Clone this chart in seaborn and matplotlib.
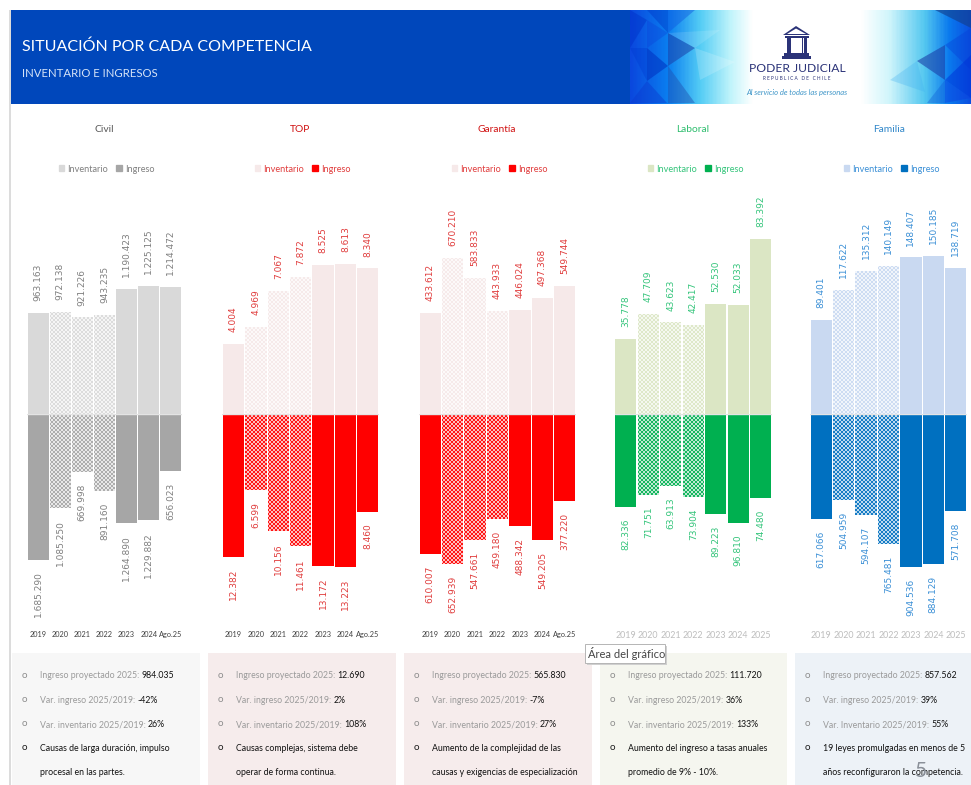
import numpy as np
import matplotlib
matplotlib.use("Agg")
import matplotlib.pyplot as plt
from matplotlib.colors import LinearSegmentedColormap
from matplotlib.patches import Rectangle, Polygon
import seaborn as sns

sns.set_theme(style="white")
plt.rcParams["font.family"] = ["Lato", "DejaVu Sans"]

W, H = 971, 785
DPI = 96  # a whole-pixel hatch period at this resolution


def pts(x):
    return x * 100 / DPI


plt.rcParams["hatch.linewidth"] = pts(0.42)

YEARS_A = ["2019", "2020", "2021", "2022", "2023", "2024", "Ago.25"]
YEARS_B = ["2019", "2020", "2021", "2022", "2023", "2024", "2025"]

civil_inv = [963163, 972138, 921226, 943235, 1190423, 1225125, 1214472]
civil_ing = [1685290, 1085250, 669998, 891160, 1264890, 1229882, 656023]
top_inv = [4004, 4969, 7067, 7872, 8525, 8613, 8340]
top_ing = [12382, 6599, 10156, 11461, 13172, 13223, 8460]
gar_inv = [433612, 670210, 583833, 443933, 446024, 497368, 549744]
gar_ing = [610007, 652939, 547661, 459180, 488342, 549205, 377220]
lab_inv = [35778, 47709, 43623, 42417, 52530, 52033, 83392]
lab_ing = [82336, 71751, 63913, 73904, 89223, 96810, 74480]
fam_inv = [89401, 117622, 135312, 140149, 148407, 150185, 138719]
fam_ing = [617066, 504959, 594107, 765481, 904536, 884129, 571708]

titles = ["Civil", "TOP", "Garantía", "Laboral", "Familia"]
notes = [
    ["984.035", "-42%", "26%", "Causas de larga duración, impulso", "procesal en las partes."],
    ["12.690", "2%", "108%", "Causas complejas, sistema debe", "operar de forma continua."],
    ["565.830", "-7%", "27%", "Aumento de la complejidad de las", "causas y exigencias de especialización"],
    ["111.720", "36%", "133%", "Aumento del ingreso a tasas anuales", "promedio de 9% - 10%."],
    ["857.562", "39%", "55%", "19 leyes promulgadas en menos de 5", "años reconfiguraron la competencia."],
]
note_heads = ["Ingreso proyectado 2025:", "Var. ingreso 2025/2019:", "Var. inventario 2025/2019:"]

panels = [
    dict(inv=civil_inv, ing=civil_ing, x0=27, x1=182, k_inv=9536, k_ing=11560, ci="#d9d9d9", cg="#a6a6a6",
         txt="#7f7f7f", title="#595959", years=YEARS_A, cx=104, box=(12, 200), fill="#f7f7f7"),
    dict(inv=top_inv, ing=top_ing, x0=222.3, x1=379, k_inv=57.3, k_ing=86.6, ci="#f6e9e9", cg="#ff0000",
         txt="#e03c3c", title="#d01010", years=YEARS_A, cx=300, box=(208, 396), fill="#f6ecec"),
    dict(inv=gar_inv, ing=gar_ing, x0=419, x1=576, k_inv=4295, k_ing=4355, ci="#f6e9e9", cg="#ff0000",
         txt="#e03c3c", title="#d01010", years=YEARS_A, cx=497, box=(404, 592), fill="#f6ecec"),
    dict(inv=lab_inv, ing=lab_ing, x0=614.5, x1=772, k_inv=476, k_ing=890, ci="#dbe6c4", cg="#00b050",
         txt="#33c47a", title="#2ebd6e", years=YEARS_B, cx=693, box=(600, 787), fill="#f5f6ef"),
    dict(inv=fam_inv, ing=fam_ing, x0=810, x1=967, k_inv=948, k_ing=5900, ci="#c9d9f1", cg="#0070c0",
         txt="#3a8fd6", title="#2f86c9", years=YEARS_B, cx=889, box=(795, 971), fill="#edf2f7"),
]

BASE = 414
UP, DOWN = 214, 216

fig = plt.figure(figsize=(W / DPI, H / DPI), dpi=DPI, facecolor="white")


def pix_axes(x0, x1, ytop, ybot, **kw):
    return fig.add_axes([x0 / W, 1 - ybot / H, (x1 - x0) / W, (ybot - ytop) / H], **kw)


bg = fig.add_axes([0, 0, 1, 1], zorder=0)
bg.set_xlim(0, W)
bg.set_ylim(H, 0)
bg.axis("off")

# frame and header
bg.add_patch(Rectangle((8.5, 10), 2.5, H - 10, color="#dcdcdc", lw=0))
bg.add_patch(Rectangle((11, 10), 620, 94, color="#0047bb", lw=0))
bg.text(22, 46.5, "SITUACIÓN POR CADA COMPETENCIA", color="white", fontsize=pts(11.5), va="center")
bg.text(22, 73.5, "INVENTARIO E INGRESOS", color="#d5e3f7", fontsize=pts(8.2), va="center")

# banner
bn = pix_axes(630, W, 10, 104, zorder=0.5)
stops = [(630, "#0a48de"), (668, "#0a7ff0"), (700, "#55cdf5"), (730, "#c0f4fb"), (752, "#ffffff"),
         (862, "#ffffff"), (890, "#d0f5fb"), (925, "#55c8f0"), (950, "#0a7aee"), (971, "#0a4fe0")]
cmap = LinearSegmentedColormap.from_list("banner", [((x - 630) / (W - 630), c) for x, c in stops])
bn.imshow(np.linspace(0, 1, 342)[None, :], extent=(630, W, 104, 10), aspect="auto", cmap=cmap, zorder=1)
bn.set_xlim(630, W)
bn.set_ylim(104, 10)
bn.axis("off")
tris = [
    ([(630, 10), (647, 20), (630, 48)], "#0030c8", 0.45),
    ([(647, 20), (668, 33), (647, 48)], "#0a40d8", 0.35),
    ([(647, 10), (668, 10), (668, 33)], "#0038c8", 0.45),
    ([(668, 10), (668, 33), (695, 10)], "#1058e0", 0.45),
    ([(668, 33), (695, 48), (668, 66)], "#1a3fa8", 0.55),
    ([(695, 48), (668, 33), (720, 30)], "#ffffff", 0.12),
    ([(630, 48), (647, 48), (647, 81)], "#0038d0", 0.35),
    ([(647, 48), (668, 66), (647, 81)], "#0030c0", 0.55),
    ([(668, 66), (695, 103), (668, 103)], "#2050b0", 0.45),
    ([(647, 81), (667, 103), (630, 103)], "#0a3ad0", 0.45),
    ([(695, 48), (735, 62), (700, 80)], "#ffffff", 0.18),
    ([(935, 10), (971, 10), (971, 28)], "#12408f", 0.65),
    ([(945, 45), (971, 28), (971, 70)], "#0640d8", 0.4),
    ([(917, 61), (945, 45), (945, 80)], "#1a3fa8", 0.6),
    ([(945, 80), (971, 98), (971, 55)], "#0030d8", 0.5),
    ([(945, 80), (971, 98), (945, 103)], "#0a40e0", 0.5),
    ([(917, 61), (890, 80), (925, 92)], "#40b0f0", 0.3),
    ([(927, 103), (945, 80), (945, 103)], "#1060d8", 0.4),
]
for tri, c, a in tris:
    bn.add_patch(Polygon(tri, closed=True, color=c, alpha=a, lw=0, zorder=2))
navy = "#2b3378"
bn.add_patch(Polygon([(783, 35), (796, 26), (810, 35)], closed=True, color=navy, lw=0, zorder=4))
bn.add_patch(Polygon([(787, 34), (796, 28.5), (806, 34)], closed=True, color="white", lw=0, zorder=4))
for xb, wb in [(786.5, 3), (790, 1.2), (801.5, 1.2), (803.5, 3)]:
    bn.add_patch(Rectangle((xb, 36), wb, 17, color=navy, lw=0, zorder=4))
bn.add_patch(Rectangle((785, 36), 24, 1.8, color=navy, lw=0, zorder=4))
bn.add_patch(Rectangle((784, 53), 25, 2.5, color=navy, lw=0, zorder=4))
bn.add_patch(Rectangle((782, 56), 29, 3, color=navy, lw=0, zorder=4))
bn.text(797, 69, "PODER JUDICIAL", color=navy, fontsize=pts(8.7), ha="center", va="center", zorder=5)
bn.text(797, 79, "R E P U B L I C A   D E   C H I L E", color=navy, fontsize=pts(3.4), ha="center",
        va="center", zorder=5)
bn.text(797, 92, "Al servicio de todas las personas", color="#3f96c8", fontsize=pts(5.5), ha="center",
        va="center", zorder=5, style="italic")


def draw_side(ax, values, color, txt, k, span, down):
    sns.barplot(x=list(range(7)), y=values, ax=ax, color=color, width=0.95, saturation=1, legend=False)
    ax.set_xlim(-0.5, 6.5)
    ax.set_ylim(span * k, 0) if down else ax.set_ylim(0, span * k)
    for i, b in enumerate(ax.patches):
        b.set_linewidth(0)
        if i in (1, 2, 3):
            b.set_hatch("xxxxxxxx")
            b.set_edgecolor("white")
    ax.bar_label(ax.containers[0], labels=[f"{v:,}".replace(",", ".") for v in values], rotation=90,
                 padding=pts(8.5), color=txt, fontsize=pts(6.5), family="DejaVu Sans")
    ax.set_yticks([])
    ax.set_xlabel("")
    ax.set_ylabel("")
    sns.despine(ax=ax, left=True, bottom=True, top=True, right=True)
    ax.patch.set_alpha(0)


fig.canvas.draw()
rend = fig.canvas.get_renderer()
for idx, (p, note) in enumerate(zip(panels, notes)):
    top = pix_axes(p["x0"], p["x1"], BASE - UP, BASE, zorder=1)
    low = pix_axes(p["x0"], p["x1"], BASE, BASE + DOWN, zorder=1)
    draw_side(top, p["inv"], p["ci"], p["txt"], p["k_inv"], UP, False)
    top.set_xticks([])
    draw_side(low, p["ing"], p["cg"], p["txt"], p["k_ing"], DOWN, True)
    low.axhline(0, color="#e4e4e4", lw=pts(1))
    low.set_xticks(range(7))
    if p["years"] is YEARS_A:
        low.set_xticklabels(p["years"], fontsize=pts(5.3), color="#404040")
    else:
        low.set_xticklabels(p["years"], fontsize=pts(6.4), color="#bdbdbd")
    low.xaxis.set_ticks_position("bottom")
    low.tick_params(axis="x", length=0, pad=pts(1))

    bg.text(p["cx"], 130, titles[idx], color=p["title"], fontsize=pts(7.4), ha="center", va="center")
    handles = [Rectangle((0, 0), 1, 1, color=p["ci"]), Rectangle((0, 0), 1, 1, color=p["cg"])]
    top.legend(handles, ["Inventario", "Ingreso"], ncol=2, loc="center", frameon=False, fontsize=pts(6.6),
               labelcolor=p["txt"], handlelength=0.6, handleheight=0.6, handletextpad=0.35, columnspacing=0.9,
               bbox_to_anchor=((p["cx"] + 2.5) / W, 1 - 169 / H), bbox_transform=fig.transFigure)

    bx0, bx1 = p["box"]
    bg.add_patch(Rectangle((bx0, 653), bx1 - bx0, H - 653, color=p["fill"], lw=0))
    bullet_x, text_x = bx0 + 12.5, bx0 + 28
    rows = [675, 700, 724, 748, 772]
    for j, y in enumerate(rows):
        if j < 4:
            bg.text(bullet_x, y, "o", color="#8c8c8c" if j < 3 else "#1a1a1a", fontsize=pts(7), ha="center",
                    va="center")
        if j < 3:
            head = note_heads[j]
            if idx == 4 and j == 2:
                head = "Var. Inventario 2025/2019:"
            t = bg.text(text_x, y + 3.2, head, color="#9a9a9a", fontsize=pts(6.3), va="baseline")
            xe = t.get_window_extent(rend).x1
            bg.text(xe + 2.2, y + 3.2, note[j], color="#111111", fontsize=pts(6.3), va="baseline")
        else:
            bg.text(text_x, y + 3.2, note[j], color="#111111", fontsize=pts(6.3), va="baseline")

# overlays
ov = fig.add_axes([0, 0, 1, 1], zorder=3)
ov.set_xlim(0, W)
ov.set_ylim(H, 0)
ov.axis("off")
ov.patch.set_alpha(0)
ov.add_patch(Rectangle((587, 646), 80, 19, color="#cfcfcf", lw=0))
ov.add_patch(Rectangle((585, 644), 80, 19, facecolor="white", edgecolor="#b5b5b5", lw=pts(0.7)))
ov.text(588.5, 654, "Área del gráfico", color="#444444", fontsize=pts(8), va="center")
ov.text(921, 771, "5", color="#8a9099", fontsize=pts(15), ha="center", va="center")

fig.savefig("out.png", dpi=DPI, facecolor="white")
